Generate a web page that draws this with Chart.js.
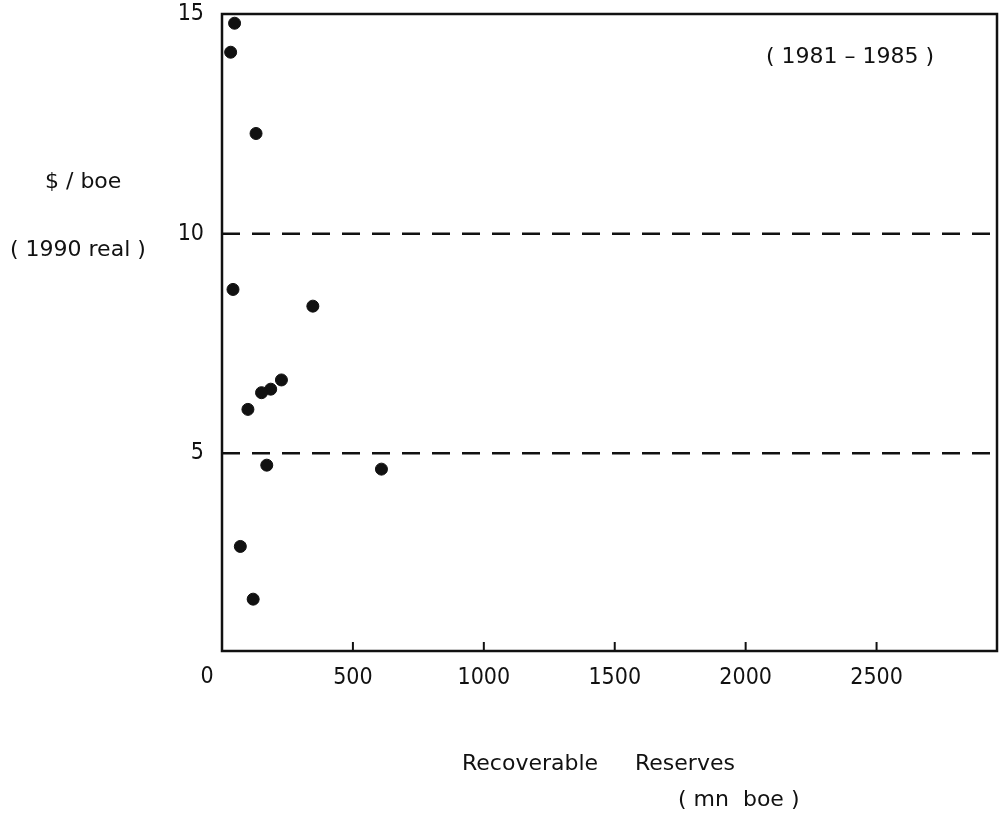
<!DOCTYPE html>
<html>
<head>
<meta charset="utf-8">
<script src="https://cdn.jsdelivr.net/npm/chart.js@4/dist/chart.umd.min.js"></script>
<style>
  html, body { margin: 0; padding: 0; background: #fff; }
  #wrap { width: 1004px; height: 815px; }
</style>
</head>
<body>
<div id="wrap"><canvas id="costChart" width="1004" height="815"></canvas></div>
<script>
// recoverable reserves (mn boe) and cost ($/boe, 1990 real), 1981-1985 fields
const reserves = [48, 33, 130, 42, 347, 227, 186, 151, 99, 171, 609, 70, 119];
const costs = [14.79, 14.13, 12.28, 8.73, 8.35, 6.67, 6.46, 6.38, 6.00, 4.73, 4.64, 2.88, 1.68];

// dashed reference levels
const referenceCosts = [10, 5];

// axes
const xRange = [0, 2960];
const yRange = [0.5, 15];
const xTickValues = [0, 500, 1000, 1500, 2000, 2500];
const yTickValues = [5, 10, 15];

const tickFamily = "'Liberation Sans Narrow', 'DejaVu Sans Condensed', sans-serif";
const tickSize = 23;
const textFont = "22px 'DejaVu Sans', sans-serif";
const ink = '#111';

// frame, inward ticks and the free-standing labels
const frameAndLabels = {
    id: 'frameAndLabels',
    afterDraw(chart) {
        const { ctx, chartArea: a, scales: { x } } = chart;
        ctx.save();
        ctx.strokeStyle = ink;
        ctx.fillStyle = ink;

        ctx.lineWidth = 2.5;
        ctx.strokeRect(a.left, a.top, a.right - a.left, a.bottom - a.top);

        ctx.lineWidth = 2;
        xTickValues.forEach(v => {
            if (v === 0) return;
            const px = x.getPixelForValue(v);
            ctx.beginPath();
            ctx.moveTo(px, a.bottom);
            ctx.lineTo(px, a.bottom - 9);
            ctx.stroke();
        });

        // origin label sits left of the axis
        ctx.font = tickSize + 'px ' + tickFamily;
        ctx.textAlign = 'center';
        ctx.textBaseline = 'middle';
        ctx.fillText('0', x.getPixelForValue(0) - 15, 677);

        ctx.font = textFont;
        ctx.textAlign = 'left';
        ctx.fillText('$ / boe', 45, 182);
        ctx.fillText('( 1990 real )', 10, 250);
        ctx.fillText('( 1981 – 1985 )', 766, 57);
        ctx.fillText('Recoverable', 462, 764);
        ctx.fillText('Reserves', 635, 764);
        ctx.fillText('( mn  boe )', 678, 800);
        ctx.restore();
    }
};

const ctx = document.getElementById('costChart').getContext('2d');

const datasets = [{
    type: 'scatter',
    data: reserves.map((r, i) => ({ x: r, y: costs[i] })),
    backgroundColor: ink,
    borderColor: ink,
    pointRadius: 6,
    pointHoverRadius: 6
}];

referenceCosts.forEach(c => {
    datasets.push({
        type: 'line',
        data: [{ x: xRange[0], y: c }, { x: xRange[1], y: c }],
        borderColor: ink,
        borderWidth: 2.5,
        borderDash: [18, 12],
        pointRadius: 0,
        fill: false
    });
});

new Chart(ctx, {
    data: { datasets },
    options: {
        responsive: false,
        animation: false,
        events: [],
        layout: { padding: { top: 14, right: -2, bottom: 0, left: 0 } },
        plugins: {
            legend: { display: false },
            tooltip: { enabled: false }
        },
        scales: {
            x: {
                type: 'linear',
                min: xRange[0],
                max: xRange[1],
                grid: { display: false },
                border: { display: false },
                afterBuildTicks: s => { s.ticks = xTickValues.map(v => ({ value: v })); },
                afterFit: s => {
                    s.height = 164;
                    s.paddingLeft = 0;
                    s.paddingRight = 0;
                },
                ticks: {
                    padding: 5,
                    color: ink,
                    font: { family: tickFamily, size: tickSize },
                    maxRotation: 0,
                    callback: v => (v === 0 ? '' : v)
                }
            },
            y: {
                type: 'linear',
                min: yRange[0],
                max: yRange[1],
                grid: { display: false },
                border: { display: false },
                afterBuildTicks: s => { s.ticks = yTickValues.map(v => ({ value: v })); },
                afterFit: s => {
                    s.width = 222;
                    s.paddingTop = 0;
                    s.paddingBottom = 0;
                },
                ticks: {
                    padding: 10,
                    color: ink,
                    font: { family: tickFamily, size: tickSize }
                }
            }
        }
    },
    plugins: [frameAndLabels]
});
</script>
</body>
</html>
